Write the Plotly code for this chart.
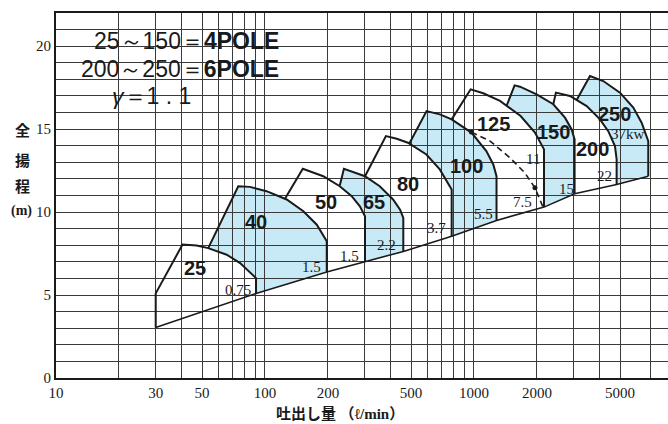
import numpy as np
import plotly.graph_objects as go

# ---------------- data ----------------
models = ["25", "40", "50", "65", "80", "100", "125", "150", "200", "250"]
filled = [False, True, False, True, False, True, False, True, False, True]

# point where each model's left edge starts (on previous model's curve)
start_q = [30, 53.5, 124.6, 228, 301, 490, 782, 1433, 2396, 3100]
start_h = [5.1, 7.83, 10.8, 11.6, 12.16, 14.12, 15.59, 16.41, 16.5, 16.76]

# upper H-Q curve of each model (first point = top-left corner)
curve_q = [
    [40.3, 47.1, 53.5, 65.6, 76, 84.7, 90.6],
    [74.5, 84.7, 101.7, 127, 152.6, 177, 197.5],
    [151.7, 190, 228, 260, 284.5, 301],
    [238.6, 301, 354, 410, 443, 459],
    [379, 427, 483, 592, 686, 782],
    [593, 687, 782, 972, 1146, 1237, 1282],
    [964, 1108, 1332, 1672, 1958, 2163],
    [1564, 1660, 1994, 2396, 2725, 2934, 3030],
    [2467, 2879, 3461, 4008, 4391, 4727, 4815],
    [3589, 4156, 4995, 5785, 6342, 6823],
]
curve_h = [
    [8.04, 7.98, 7.83, 7.43, 6.93, 6.39, 6.02],
    [11.56, 11.52, 11.26, 10.76, 10.05, 9.24, 8.24],
    [12.61, 12.16, 11.56, 10.96, 10.35, 9.75],
    [12.61, 12.16, 11.56, 10.76, 10.15, 9.65],
    [14.58, 14.42, 14.18, 13.47, 12.57, 11.36],
    [16.09, 15.89, 15.59, 14.79, 13.68, 12.87, 12.16],
    [17.4, 17.16, 16.7, 15.79, 14.79, 13.78],
    [17.64, 17.56, 17.1, 16.5, 15.69, 14.98, 14.38],
    [17.2, 17.0, 16.39, 15.59, 14.88, 13.98, 13.17],
    [18.2, 17.9, 17.2, 16.3, 15.39, 14.28],
]
# head on the lower (minimum) line at each model's right edge
bottom_h = [5.1, 6.39, 7.03, 7.63, 8.54, 9.5, 10.3, 11.1, 11.66, 12.16]
low_start_q, low_start_h = 30, 3.05

# dashed 7.5 kW limit curve of model 125
dash_q = [972, 1195, 1487, 1750, 1958, 2140]
dash_h = [14.82, 14.28, 13.27, 12.37, 11.46, 10.3]

# model label positions
label_q = [46.2, 90.6, 196, 334, 481, 921, 1240, 2401, 3710, 4727]
label_h = [6.63, 9.4, 10.6, 10.6, 11.69, 12.78, 15.32, 14.83, 13.8, 15.89]

# motor power labels
kw_text = ["0.75", "1.5", "1.5", "2.2", "3.7", "5.5", "7.5", "11", "15", "22", "37kw"]
kw_q = [74.5, 167, 255, 382, 663, 1108, 1700, 1921, 2777, 4234, 5456]
kw_h = [5.32, 6.70, 7.33, 8.04, 9.05, 9.91, 10.6, 13.23, 11.4, 12.2, 14.68]

x_ticks = [10, 30, 50, 100, 200, 500, 1000, 2000, 5000]
x_minor = [20, 40, 60, 70, 80, 90, 300, 400, 600, 700, 800, 900, 3000, 4000, 7000]
y_ticks = [0, 5, 10, 15, 20]

BLUE = "#c8eaf7"
INK = "#1a1a1a"
SERIF = "Liberation Serif, Times New Roman, serif"
SANS = "Liberation Sans, Arial, sans-serif"

fig = go.Figure()
shapes = []

# blue fills (below gridlines)
for i, m in enumerate(models):
    if not filled[i] or i == 0:
        continue
    pts = [(start_q[i], start_h[i])]
    pts += list(zip(curve_q[i], curve_h[i]))
    pts.append((curve_q[i][-1], bottom_h[i]))
    pts.append((curve_q[i - 1][-1], bottom_h[i - 1]))
    prev = [(q, h) for q, h in zip(curve_q[i - 1], curve_h[i - 1]) if q > start_q[i]]
    pts += prev[::-1]
    path = "M " + " L ".join(f"{q},{h}" for q, h in pts) + " Z"
    shapes.append(dict(type="path", path=path, xref="x", yref="y",
                       fillcolor=BLUE, line=dict(width=0), layer="below"))

# white box behind the text block (covers gridlines)
shapes.append(dict(type="rect", xref="paper", yref="y", x0=(83 - 56) / 612, x1=(282 - 56) / 612,
                   y0=17.45, y1=20.95, fillcolor="white", line=dict(width=0), layer="between"))
shapes.append(dict(type="rect", xref="paper", yref="y", x0=(83 - 56) / 612, x1=(197 - 56) / 612,
                   y0=16.25, y1=17.45, fillcolor="white", line=dict(width=0), layer="between"))

# outlines
for i, m in enumerate(models):
    if i == 0:
        xs = [low_start_q, start_q[i]]
        ys = [low_start_h, start_h[i]]
    else:
        xs = [start_q[i]]
        ys = [start_h[i]]
    xs += curve_q[i] + [curve_q[i][-1]]
    ys += curve_h[i] + [bottom_h[i]]
    fig.add_trace(go.Scatter(x=xs, y=ys, mode="lines", line=dict(color=INK, width=2),
                             hoverinfo="skip", showlegend=False))

# minimum head line
low_q = [low_start_q] + [c[-1] for c in curve_q]
low_h = [low_start_h] + bottom_h
fig.add_trace(go.Scatter(x=low_q, y=low_h, mode="lines", line=dict(color=INK, width=1.6),
                         hoverinfo="skip", showlegend=False))

# dashed curve
fig.add_trace(go.Scatter(x=dash_q, y=dash_h, mode="lines", line=dict(color=INK, width=1.6, dash="6px,4px"),
                         hoverinfo="skip", showlegend=False))
fig.add_trace(go.Scatter(x=[dash_q[0], dash_q[4]], y=[dash_h[0], dash_h[4]], mode="markers",
                         marker=dict(color=INK, size=5), hoverinfo="skip", showlegend=False))

ann = []
for t, q, h in zip(models, label_q, label_h):
    ann.append(dict(x=np.log10(q), y=h, xref="x", yref="y", text=t, showarrow=False,
                    font=dict(family="Liberation Sans Narrow, Liberation Sans, Arial, sans-serif",
                              size=20, color=INK, weight="bold")))
for t, q, h in zip(kw_text, kw_q, kw_h):
    ann.append(dict(x=np.log10(q), y=h, xref="x", yref="y", text=t, showarrow=False,
                    font=dict(family=SERIF, size=15, color=INK)))

# text block
ann.append(dict(x=(281 - 56) / 612, y=20.3, xref="paper", yref="y", xanchor="right", showarrow=False,
                text="25～150＝<b>4POLE</b>", font=dict(family=SANS, size=23, color=INK)))
ann.append(dict(x=(281 - 56) / 612, y=18.6, xref="paper", yref="y", xanchor="right", showarrow=False,
                text="200～250＝<b>6POLE</b>", font=dict(family=SANS, size=23, color=INK)))
ann.append(dict(x=(151 - 56) / 612, y=17.0, xref="paper", yref="y", xanchor="center", showarrow=False,
                text="<i>γ</i>＝1 . 1", font=dict(family=SANS, size=23, color=INK)))

# axis titles
for t, h in zip(["全", "揚", "程"], [14.98, 13.17, 11.6]):
    ann.append(dict(x=(22 - 56) / 612, y=h, xref="paper", yref="y", text=t, showarrow=False,
                    xanchor="center", yanchor="middle",
                    font=dict(family="Noto Sans CJK JP, sans-serif", size=15, color=INK, weight="bold")))
ann.append(dict(x=(21 - 56) / 612, y=10.05, xref="paper", yref="y", text="(m)", showarrow=False,
                xanchor="center", yanchor="middle",
                font=dict(family=SERIF, size=14, color=INK, weight="bold")))
ann.append(dict(x=(340 - 56) / 612, y=(378 - 412) / 365, xref="paper", yref="paper",
                xanchor="center", yanchor="middle",
                text="吐出し量 （<span style='font-family:Liberation Serif'>ℓ/min</span>）", showarrow=False,
                font=dict(family="Noto Sans CJK JP, sans-serif", size=15, color=INK, weight="bold")))

grid_col = "#3a3a3a"
fig.update_layout(
    width=668, height=424,
    margin=dict(l=56, r=0, t=13, b=46),
    paper_bgcolor="white", plot_bgcolor="white",
    shapes=shapes, annotations=ann, showlegend=False,
    xaxis=dict(type="log", range=[1, np.log10(8480)], tickvals=x_ticks, ticktext=[str(v) for v in x_ticks],
               showgrid=True, gridcolor=grid_col, gridwidth=1, zeroline=False,
               minor=dict(tickvals=x_minor, showgrid=True, gridcolor=grid_col, gridwidth=1, ticks=""),
               showline=True, linecolor=INK, linewidth=2, mirror=True, ticks="",
               tickfont=dict(family=SERIF, size=15, color=INK)),
    yaxis=dict(range=[0, 22], tickvals=y_ticks, showgrid=True, gridcolor=grid_col, gridwidth=1,
               zeroline=False, minor=dict(dtick=1, showgrid=True, gridcolor=grid_col, gridwidth=1, ticks=""),
               showline=True, linecolor=INK, linewidth=2, ticks="",
               tickfont=dict(family=SERIF, size=15, color=INK)),
)

fig.write_html("out.html", config={"displayModeBar": False},
               post_script="document.body.style.margin='0';")
